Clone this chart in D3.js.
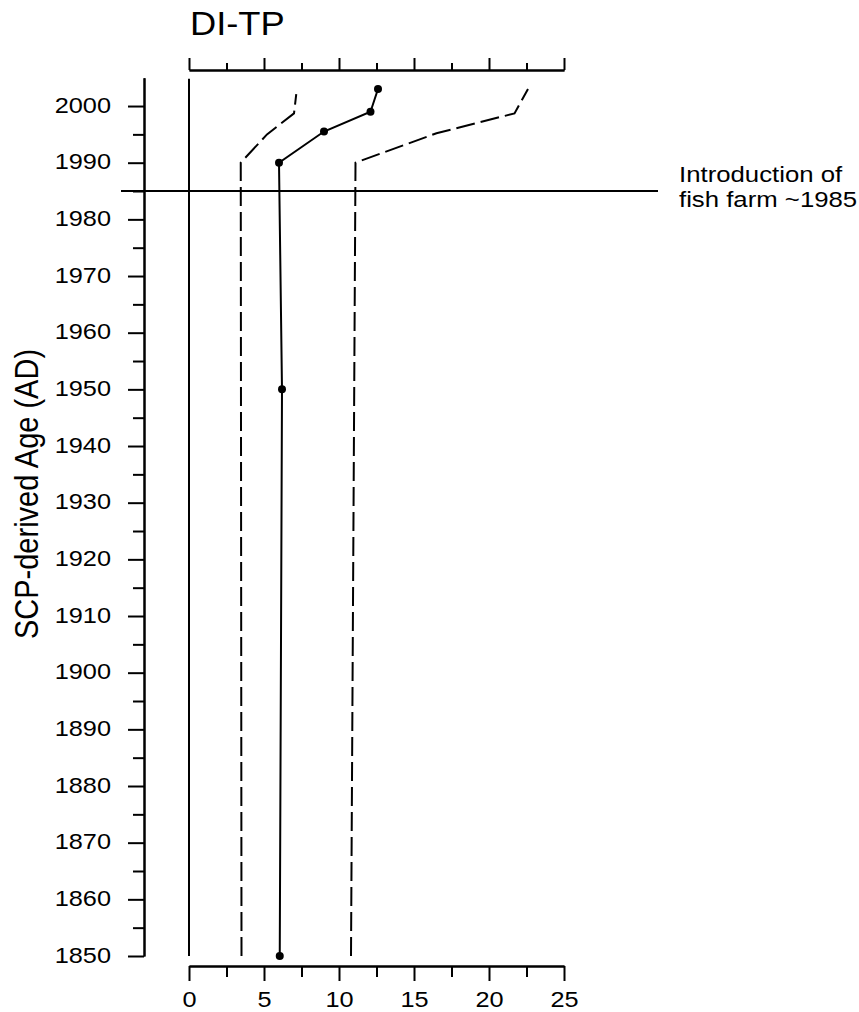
<!DOCTYPE html>
<html>
<head>
<meta charset="utf-8">
<script src="https://cdn.jsdelivr.net/npm/d3@7"></script>
<style>
    body { margin: 0; background: #fff; }
    svg { display: block; font-family: Arial, 'Liberation Sans', sans-serif; }
    .axis path, .axis line { stroke: #000; stroke-width: 2px; }
    .axis text { font-size: 22px; fill: #000; }
</style>
</head>
<body>
<div class="visHolder"></div>
<script>
// DI-TP reconstruction, values
const years = [1850, 1950, 1990, 1995.5, 1999, 2003]
const ditp = [6.05, 6.2, 6.0, 9.0, 12.1, 12.6]

const lowerYears = [1850, 1990, 1995, 1998.7, 2002.1]
const lower = [3.5, 3.45, 5.2, 7.0, 7.15]

const upperYears = [1850, 1990, 1995.2, 1998.7, 2003]
const upper = [10.8, 11.1, 16.5, 21.7, 22.6]

const xMajorTicks = [0, 5, 10, 15, 20, 25]
const xMinorTicks = [2.5, 7.5, 12.5, 17.5, 22.5]
const yMajorTicks = d3.range(1850, 2001, 10)
const yMinorTicks = d3.range(1855, 2000, 10)

const fishFarmYear = 1985
const noteLines = ['Introduction of', 'fish farm ~1985']

function init() {
    const width = 859
    const height = 1012
    const stretch = 1.15

    const svg = d3.select('.visHolder')
        .append('svg')
        .attr('width', width)
        .attr('height', height)

    const xScale = d3.scaleLinear()
        .domain([0, 25])
        .range([189, 564])

    const yScale = d3.scaleLinear()
        .domain([1850, 2005])
        .range([956, 77.7])

    // bottom axis
    const bottom = svg.append('g')
        .attr('class', 'axis')
        .attr('transform', 'translate(0, 966)')
    bottom.call(d3.axisBottom(xScale).tickValues(xMinorTicks).tickSize(11).tickSizeOuter(0).tickFormat(''))
    bottom.append('g')
        .attr('class', 'axis')
        .call(d3.axisBottom(xScale).tickValues(xMajorTicks).tickSize(15).tickSizeOuter(0))
    bottom.selectAll('text')
        .attr('y', 0)
        .attr('dy', null)
        .attr('transform', `translate(0, 41) scale(${stretch}, 1)`)

    // top axis, no labels
    const top = svg.append('g')
        .attr('class', 'axis')
        .attr('transform', 'translate(0, 70)')
    top.call(d3.axisTop(xScale).tickValues(xMinorTicks).tickSize(7).tickSizeOuter(0).tickFormat(''))
    top.append('g')
        .attr('class', 'axis')
        .call(d3.axisTop(xScale).tickValues(xMajorTicks).tickSize(12).tickSizeOuter(0).tickFormat(''))

    // left axis
    const left = svg.append('g')
        .attr('class', 'axis')
        .attr('transform', 'translate(144, 0)')
    left.call(d3.axisLeft(yScale).tickValues(yMinorTicks).tickSize(11).tickSizeOuter(0).tickFormat(''))
    left.append('g')
        .attr('class', 'axis')
        .call(d3.axisLeft(yScale).tickValues(yMajorTicks).tickSize(16).tickSizeOuter(0).tickFormat(d3.format('d')))
    left.selectAll('text')
        .attr('x', 0)
        .attr('transform', `translate(-33, -1) scale(${stretch}, 1)`)

    // zero line
    svg.append('line')
        .attr('x1', xScale(0))
        .attr('x2', xScale(0))
        .attr('y1', yScale(2004.8))
        .attr('y2', yScale(1850))
        .attr('stroke', '#000')
        .attr('stroke-width', 2)

    // fish farm line
    svg.append('line')
        .attr('x1', 121)
        .attr('x2', 658)
        .attr('y1', yScale(fishFarmYear))
        .attr('y2', yScale(fishFarmYear))
        .attr('stroke', '#000')
        .attr('stroke-width', 2)

    const line = d3.line()
        .x(d => xScale(d[0]))
        .y(d => yScale(d[1]))

    svg.append('path')
        .datum(d3.zip(lower, lowerYears))
        .attr('d', line)
        .attr('fill', 'none')
        .attr('stroke', '#000')
        .attr('stroke-width', 2)
        .attr('stroke-dasharray', '19,6')

    svg.append('path')
        .datum(d3.zip(upper, upperYears))
        .attr('d', line)
        .attr('fill', 'none')
        .attr('stroke', '#000')
        .attr('stroke-width', 2)
        .attr('stroke-dasharray', '19,6')

    svg.append('path')
        .datum(d3.zip(ditp, years))
        .attr('d', line)
        .attr('fill', 'none')
        .attr('stroke', '#000')
        .attr('stroke-width', 2)

    svg.selectAll('circle')
        .data(d3.zip(ditp, years))
        .enter()
        .append('circle')
        .attr('cx', d => xScale(d[0]))
        .attr('cy', d => yScale(d[1]))
        .attr('r', 4)
        .attr('fill', '#000')

    // texts
    svg.append('text')
        .attr('transform', 'translate(190, 35) scale(1.1, 1)')
        .attr('font-size', 33)
        .text('DI-TP')

    svg.append('text')
        .attr('transform', `translate(38, 494) scale(${stretch}, 1) rotate(-90)`)
        .attr('text-anchor', 'middle')
        .attr('font-size', 29)
        .text('SCP-derived Age (AD)')

    svg.selectAll('.note')
        .data(noteLines)
        .enter()
        .append('text')
        .attr('class', 'note')
        .attr('transform', (d, i) => `translate(679, ${182 + i * 25}) scale(1.12, 1)`)
        .attr('font-size', 23)
        .text(d => d)
}

init()
</script>
</body>
</html>
